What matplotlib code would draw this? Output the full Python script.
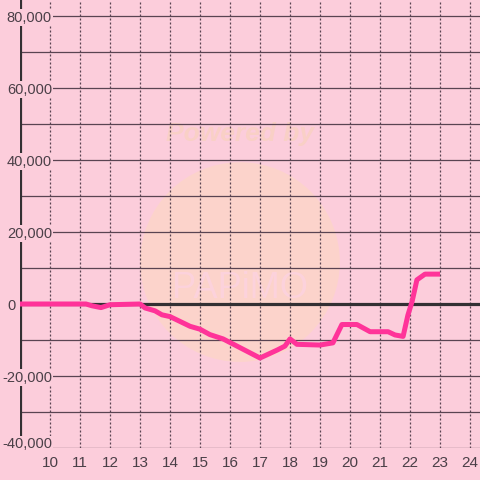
import matplotlib
matplotlib.use("Agg")
import matplotlib.pyplot as plt
from matplotlib.patches import Circle
from matplotlib.transforms import ScaledTranslation

# ---- data ----
x_vals = [9, 11.2, 11.4, 11.7, 12.0, 13.0, 13.17, 13.5, 13.73, 14.0, 14.67, 15.0, 15.33,
          15.77, 17.0, 17.57, 17.83, 18.0, 18.23, 19.0, 19.43, 19.73, 20.23, 20.67,
          21.27, 21.5, 21.77, 21.93, 22.07, 22.23, 22.5, 23.0]
y_vals = [0, 0, -500, -1000, -200, 0, -1100, -1900, -3000, -3500, -6200, -7000, -8500,
          -9700, -15000, -12800, -11700, -9700, -11200, -11400, -10800, -5700, -5700, -7700,
          -7700, -8600, -9000, -3100, 700, 6700, 8300, 8300]
x_ticks = list(range(10, 25))
y_ticks = [-40000, -20000, 0, 20000, 40000, 60000, 80000]
y_tick_labels = ["-40,000", "-20,000", "0", "20,000", "40,000", "60,000", "80,000"]
y_grid = list(range(-40000, 80001, 10000))

BG = "#fccddb"
GRID = "#5a4452"
TXT = "#4a3f47"
LINE = "#ff3399"

plt.rcParams['font.family'] = ['Liberation Sans', 'DejaVu Sans']

fig = plt.figure(figsize=(4.8, 4.8), dpi=100, facecolor=BG)
ax = fig.add_axes([20/480, 32/480, 460/480, 448/480])
ax.set_facecolor(BG)
ax.set_xlim(9, 9 + 460/30)
ax.set_ylim(-40000, 80000 + 16/72*20000)

# watermark (behind grid)
ax.add_patch(Circle((0.5, 0.454), 0.208, transform=fig.transFigure,
                    facecolor="#fdd6c6", edgecolor="none", alpha=0.75, zorder=0.5))
ax.text(0.5, 0.72, "Powered by", transform=fig.transFigure, ha="center", va="center",
        fontsize=19, fontweight="bold", style="italic", color="#f9d0c6", zorder=0.6)
ax.text(0.5, 0.40, "PAPiMO", transform=fig.transFigure, ha="center", va="center",
        fontsize=26, color="#fcd2dc", zorder=0.6)

# grid
for gy in y_grid:
    if gy == 0:
        continue
    ax.axhline(gy, color=GRID, lw=0.9, zorder=1)
for gx in x_ticks:
    ax.axvline(gx, color=GRID, lw=0.9, ls=(0, (1.6, 1.6)), zorder=1)
ax.axhline(0, color="#333033", lw=2.3, zorder=1.6)
ax.axvline(9, color="#333033", lw=2.3, zorder=1.6)

ax.plot(x_vals, y_vals, color=LINE, lw=3.6, solid_joinstyle="round",
        solid_capstyle="butt", zorder=3)

for s in ax.spines.values():
    s.set_visible(False)

ax.set_xticks(x_ticks)
ax.set_xticklabels([str(v) for v in x_ticks])
ax.set_yticks(y_ticks)
ax.set_yticklabels(y_tick_labels)
ax.tick_params(axis="x", length=0, pad=6, labelsize=11, labelcolor=TXT)
ax.tick_params(axis="y", length=0, pad=-23, labelsize=10.5, labelcolor=TXT)
for lbl in ax.get_yticklabels():
    lbl.set_bbox(dict(facecolor=BG, edgecolor="none", pad=1.0))
ax.get_yticklabels()[0].set_va("baseline")
zero_tick = ax.yaxis.get_major_ticks()[2]
zero_tick.label1.set_transform(zero_tick.label1.get_transform() +
                               ScaledTranslation(-0.36, 0, fig.dpi_scale_trans))
ax.yaxis.set_zorder(4)

fig.savefig("out.png", dpi=100, facecolor=BG)
